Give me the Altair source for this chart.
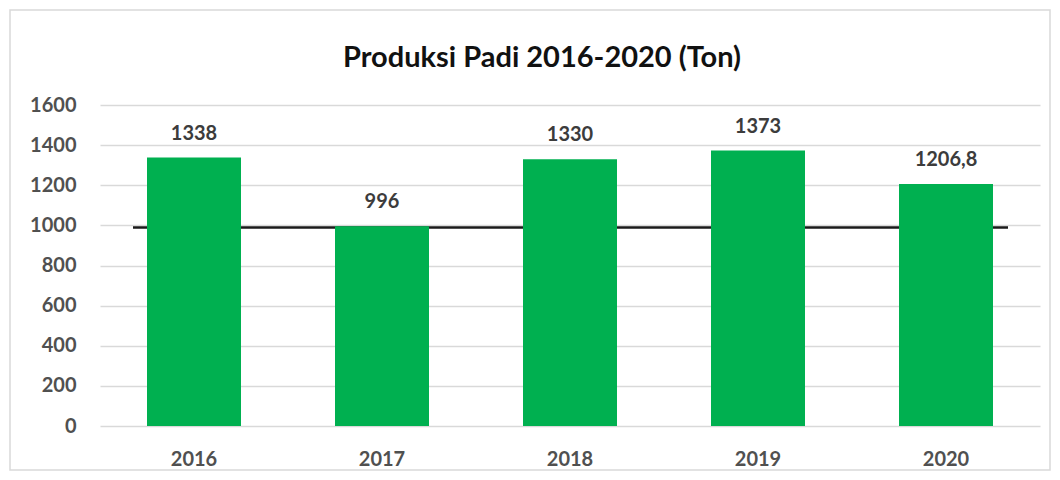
import altair as alt
import pandas as pd

years = ["2016", "2017", "2018", "2019", "2020"]
values = [1338, 996, 1330, 1373, 1206.8]
labels = ["1338", "996", "1330", "1373", "1206,8"]
ref_value = [990]
title_text = ["Produksi Padi 2016-2020 (Ton)"]

df = pd.DataFrame({"year": years, "value": values, "label": labels})
ref = pd.DataFrame({"v": ref_value})
tdf = pd.DataFrame({"t": title_text})

FONT = "Lato"
W, H = 940, 321

x = alt.X("year:N", title=None, sort=years,
          scale=alt.Scale(paddingInner=0.5, paddingOuter=0.25),
          axis=alt.Axis(labelAngle=0, labelFont=FONT, labelFontSize=20, labelFontWeight="bold",
                        labelColor="#505050", labelPadding=23, ticks=False, domain=False))
y = alt.Y("value:Q", title=None, scale=alt.Scale(domain=[0, 1600]),
          axis=alt.Axis(values=[0, 200, 400, 600, 800, 1000, 1200, 1400, 1600], format="d",
                        labelFont=FONT, labelFontSize=20, labelFontWeight="bold",
                        labelColor="#505050", labelPadding=24, ticks=False, domain=False,
                        grid=True, gridColor="#d9d9d9", gridWidth=1.5))

border = alt.Chart(ref).mark_rect(fill=None, fillOpacity=0, stroke="#d9d9d9", strokeWidth=1.5).encode(
    x=alt.value(-90), x2=alt.value(W + 10), y=alt.value(-95), y2=alt.value(H + 44))

title = alt.Chart(tdf).mark_text(font=FONT, fontSize=29, fontWeight="bold", color="#111111",
                                 baseline="middle", align="center").encode(
    x=alt.value(442), y=alt.value(-47), text="t:N")

rule = alt.Chart(ref).mark_rule(color="#1a1a1a", strokeWidth=2.5).encode(
    y=alt.Y("v:Q", scale=alt.Scale(domain=[0, 1600])),
    x=alt.value(33), x2=alt.value(908))

bars = alt.Chart(df).mark_bar(color="#00B050").encode(x=x, y=y)
text = alt.Chart(df).mark_text(font=FONT, fontSize=20, fontWeight="bold", color="#3c3c3c",
                               baseline="bottom", dy=-14).encode(
    x=alt.X("year:N", sort=years), y="value:Q", text="label:N")

chart = alt.layer(border, rule, bars, text, title).properties(
    width=W, height=H,
    autosize=alt.AutoSizeParams(type="none"),
    padding={"left": 92, "top": 97, "right": 12, "bottom": 50},
).configure_view(stroke=None)

chart.save("out.html", embed_options={"renderer": "svg", "actions": False})
